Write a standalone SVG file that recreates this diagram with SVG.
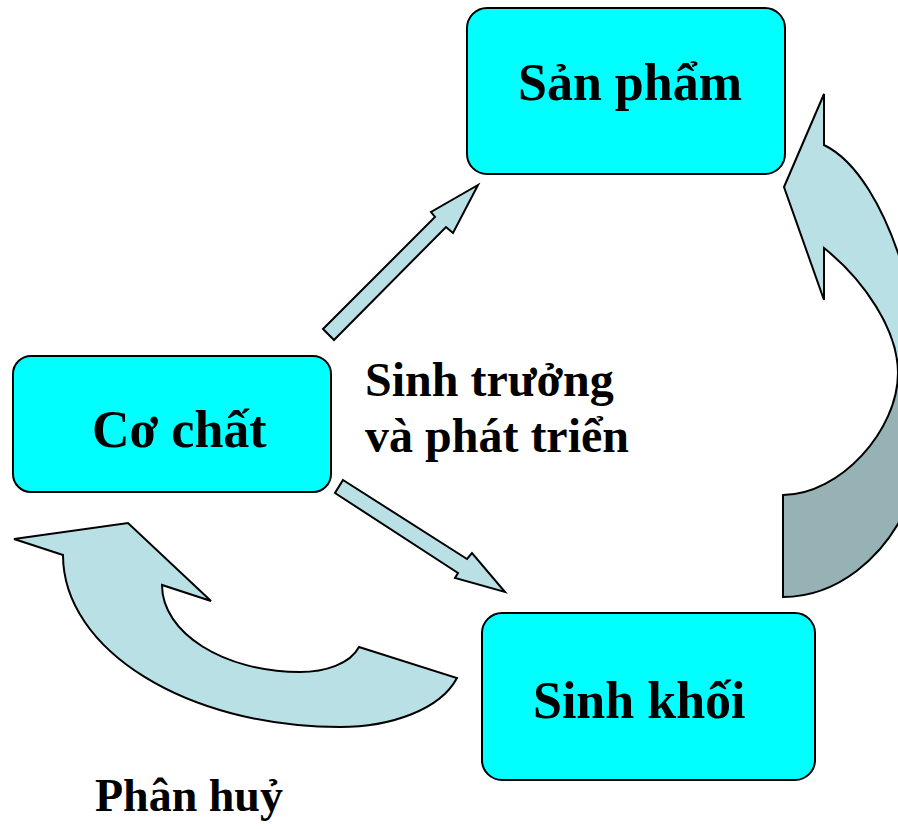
<svg xmlns="http://www.w3.org/2000/svg" width="898" height="829" viewBox="0 0 898 829">
  <style>
    .node rect { fill: #00FFFF; stroke: #000; stroke-width: 2; }
    .node text, .label { font-family: "Liberation Serif", "Times New Roman", serif; font-weight: bold; fill: #000; }
    .node text { font-size: 52px; }
    .label { font-size: 46px; }
    .label.wide { font-size: 48px; }
    .arrow { fill: #B9E0E4; stroke: #000; stroke-width: 2; stroke-linejoin: miter; }
    .arrow-back { fill: #97B2B5; stroke: #000; stroke-width: 2; }
  </style>

  <g id="connectors">
    <!-- Cơ chất -> Sản phẩm -->
    <polygon class="arrow" points="323,329 435,217 431,212 478,185 453,233 446,227 334,340"/>
    <!-- Cơ chất -> Sinh khối -->
    <polygon class="arrow" points="343,480 467,559 472,553 505,592 455,578 458,573 335,493"/>
    <!-- Sinh khối -> Sản phẩm: curved band, back face (darker) then front face -->
    <path class="arrow-back" d="M783,495 L783,597 C835,597 885,560 910,500 L910,373 L898,373 C898,430 840,495 783,495 Z"/>
    <path class="arrow" d="M784,187 L824,94 L824,145 C855,160 885,205 906,278 L910,373 L898,373 C898,330 864,280 824,248 L824,300 Z"/>
    <!-- Sinh khối -> Cơ chất: curved return arrow -->
    <path class="arrow" d="M14,539 L128,523 L211,601 L162,585 C162,633 224,672 300,672 C325,672 350,664 359,647 L457,678 C440,710 390,727 340,727 C187,727 63,650 63,555 Z"/>
    <text class="label wide" x="365" y="396">Sinh trưởng</text>
    <text class="label wide" x="365" y="452">và phát triển</text>
    <text class="label" x="95" y="811">Phân huỷ</text>
  </g>

  <g id="node-san-pham" class="node">
    <rect x="467" y="8" width="318" height="166" rx="20" ry="20"/>
    <text x="518" y="100">Sản phẩm</text>
  </g>
  <g id="node-co-chat" class="node">
    <rect x="13" y="356" width="318" height="136" rx="18" ry="18"/>
    <text x="92" y="447">Cơ chất</text>
  </g>
  <g id="node-sinh-khoi" class="node">
    <rect x="482" y="613" width="333" height="167" rx="20" ry="20"/>
    <text x="533" y="718">Sinh khối</text>
  </g>
</svg>
